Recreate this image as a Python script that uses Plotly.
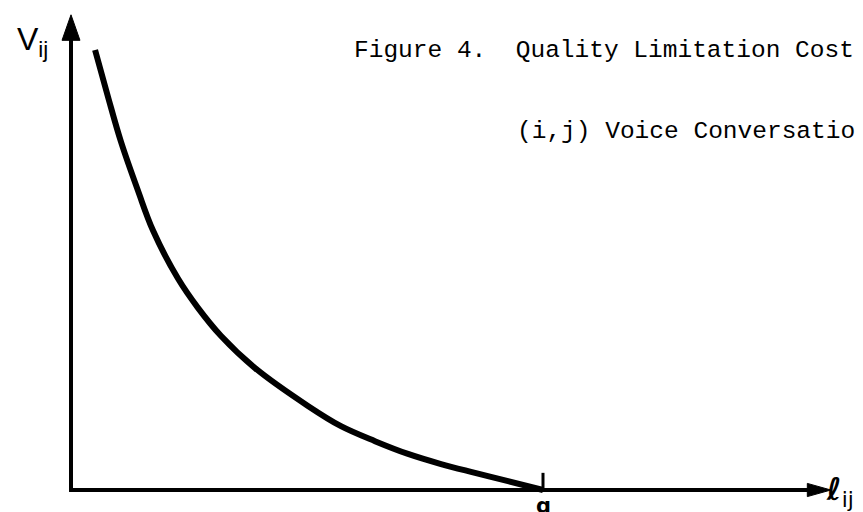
import plotly.graph_objects as go

# ---- data ----
ell = [0.051, 0.078, 0.106, 0.142, 0.174, 0.227, 0.269, 0.318, 0.390, 0.502,
       0.572, 0.644, 0.714, 0.784, 0.856, 0.926, 1.0]
V = [1.0, 0.895, 0.791, 0.680, 0.589, 0.480, 0.414, 0.350, 0.277, 0.191,
     0.145, 0.111, 0.082, 0.059, 0.039, 0.020, 0.0]
a_value = 1.0
x_tick_labels = ["ɑ"]
y_label = "V<sub>ij</sub>"
x_label = "<b><i>ℓ</i></b><sub>ij</sub>"
title_lines = ["Figure 4.  Quality Limitation Cost", "(i,j) Voice Conversation"]

X_MAX = 1.61   # x-axis arrow tip (data units)
Y_MAX = 1.08   # y-axis arrow tip (data units)

fig = go.Figure()
fig.add_trace(go.Scatter(x=ell, y=V, mode="lines",
                         line=dict(color="black", width=6, shape="spline", smoothing=1.0),
                         hoverinfo="skip", showlegend=False))

ink = "black"
shapes = [
    # axis lines
    dict(type="line", xref="x", yref="y", x0=-0.004, y0=0, x1=X_MAX - 0.03, y1=0, line=dict(color=ink, width=4)),
    dict(type="line", xref="x", yref="y", x0=0, y0=-0.004, x1=0, y1=Y_MAX - 0.05, line=dict(color=ink, width=4)),
    # arrowheads
    dict(type="path", xref="x", yref="y",
         path=f"M {X_MAX-0.05},{-0.015} L {X_MAX},0 L {X_MAX-0.05},{0.015} Z",
         fillcolor=ink, line=dict(color=ink, width=1)),
    dict(type="path", xref="x", yref="y",
         path=f"M {-0.019},{Y_MAX-0.058} L 0,{Y_MAX} L {0.019},{Y_MAX-0.058} Z",
         fillcolor=ink, line=dict(color=ink, width=1)),
    # tick at a
    dict(type="line", xref="x", yref="y", x0=a_value, y0=0, x1=a_value, y1=0.039, line=dict(color=ink, width=3)),
]

mono = "Liberation Mono"
annotations = [
    dict(x=a_value, y=-0.036, xref="x", yref="y", text=f"<b>{x_tick_labels[0]}</b>", showarrow=False,
         font=dict(family="DejaVu Sans", size=21, color=ink), xanchor="center", yanchor="middle"),
    dict(x=-0.118, y=1.02, xref="x", yref="y", text=y_label, showarrow=False,
         font=dict(family="Liberation Sans", size=32, color=ink), xanchor="left", yanchor="middle"),
    dict(x=1.596, y=-0.003, xref="x", yref="y", text=x_label, showarrow=False,
         font=dict(family="DejaVu Sans", size=31, color=ink), xanchor="left", yanchor="middle"),
    dict(x=(344 - 63) / 472, y=(482 - 42) / 440, xref="x", yref="y", text=title_lines[0], showarrow=False,
         font=dict(family=mono, size=24.5, color=ink), xanchor="left", yanchor="middle"),
    dict(x=(507 - 63) / 472, y=(482 - 123) / 440, xref="x", yref="y", text=title_lines[1], showarrow=False,
         font=dict(family=mono, size=24.5, color=ink), xanchor="left", yanchor="middle"),
]

fig.update_layout(
    width=863, height=512,
    margin=dict(l=0, r=0, t=0, b=0),
    paper_bgcolor="white", plot_bgcolor="white",
    xaxis=dict(range=[-63/472, 800/472], visible=False, fixedrange=True),
    yaxis=dict(range=[-30/440, 482/440], visible=False, fixedrange=True),
    shapes=shapes, annotations=annotations,
)
fig.write_html("out.html")
